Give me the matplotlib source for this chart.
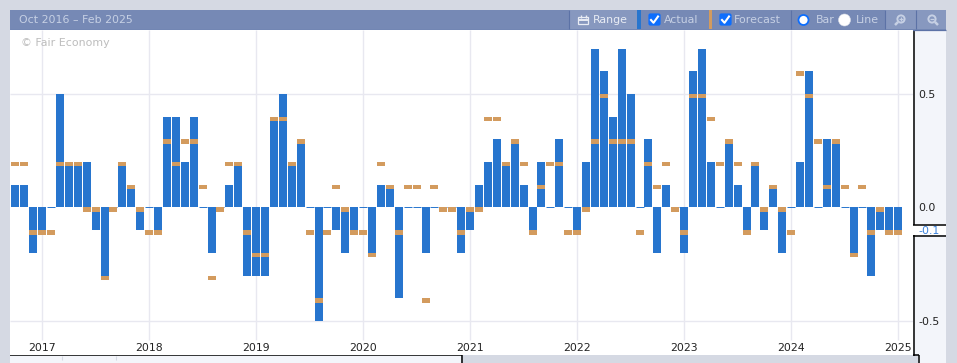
import matplotlib
matplotlib.use("Agg")
import matplotlib.pyplot as plt
from matplotlib.patches import Rectangle, Circle, FancyBboxPatch

plt.rcParams['font.family'] = ['DejaVu Sans']
plt.rcParams['axes.unicode_minus'] = False

# Monthly values, index 0 = Oct 2016
actual = [0.1, 0.1, -0.2, -0.1, 0.0, 0.5, 0.2, 0.2, 0.2, -0.1, -0.3, 0.0,
          0.2, 0.1, -0.1, 0.0, -0.1, 0.4, 0.4, 0.2, 0.4, 0.0, -0.2, 0.0,
          0.1, 0.2, -0.3, -0.3, -0.3, 0.4, 0.5, 0.2, 0.3, 0.0, -0.5, 0.0,
          -0.1, -0.2, -0.1, 0.0, -0.2, 0.1, 0.1, -0.4, 0.0, 0.0, -0.2, 0.0,
          0.0, 0.0, -0.2, -0.1, 0.1, 0.2, 0.3, 0.2, 0.3, 0.1, -0.1, 0.2,
          0.0, 0.3, 0.0, -0.1, 0.2, 0.7, 0.6, 0.4, 0.7, 0.5, 0.0, 0.3,
          -0.2, 0.1, 0.0, -0.2, 0.6, 0.7, 0.2, 0.0, 0.3, 0.1, -0.1, 0.2,
          -0.1, 0.1, -0.2, 0.0, 0.2, 0.6, 0.0, 0.3, 0.3, 0.0, -0.2, 0.0,
          -0.3, -0.1, -0.1, -0.1]
forecast = [0.2, 0.2, -0.1, -0.1, -0.1, 0.2, 0.2, 0.2, 0.0, 0.0, -0.3, 0.0,
            0.2, 0.1, 0.0, -0.1, -0.1, 0.3, 0.2, 0.3, 0.3, 0.1, -0.3, 0.0,
            0.2, 0.2, -0.1, -0.2, -0.2, 0.4, 0.4, 0.2, 0.3, -0.1, -0.4, -0.1,
            0.1, 0.0, -0.1, -0.1, -0.2, 0.2, 0.1, -0.1, 0.1, 0.1, -0.4, 0.1,
            0.0, 0.0, -0.1, 0.0, 0.0, 0.4, 0.4, 0.2, 0.3, 0.2, -0.1, 0.1,
            0.2, 0.2, -0.1, -0.1, 0.0, 0.3, 0.5, 0.3, 0.3, 0.3, -0.1, 0.2,
            0.1, 0.2, 0.0, -0.1, 0.5, 0.5, 0.4, 0.2, 0.3, 0.2, -0.1, 0.2,
            0.0, 0.1, 0.0, -0.1, 0.6, 0.5, 0.3, 0.1, 0.3, 0.1, -0.2, 0.1,
            -0.1, 0.0, -0.1, -0.1]
years = ['2017', '2018', '2019', '2020', '2021', '2022', '2023', '2024', '2025']
year_index = [3, 15, 27, 39, 51, 63, 75, 87, 99]
y_grid = [0.5, -0.5]
y_ticks = [0.5, 0.0, -0.5]
latest = -0.1
months = list(range(len(actual)))

W, H = 957, 363
BLUE = '#2775CE'
ORANGE = '#D39B5E'
BG = '#D5D9E3'
PANEL = '#F3F5FA'
HEAD = '#7689B5'
LIGHT = '#8798BF'
DIV = '#5C72A6'
GRID = '#E8E8F0'

fig = plt.figure(figsize=(W / 100, H / 100), dpi=100, facecolor=BG)

# ---- page chrome, in pixel coordinates
c = fig.add_axes([0, 0, 1, 1], zorder=0)
c.set_xlim(0, W)
c.set_ylim(H, 0)
c.axis('off')


def rect(x0, y0, x1, y1, col, z=1):
    c.add_patch(Rectangle((x0, y0), x1 - x0, y1 - y0, fc=col, ec='none', zorder=z))


def line(xs, ys, col='black', lw=1.0, z=3):
    c.plot(xs, ys, color=col, lw=lw, zorder=z, solid_capstyle='butt')


rect(913, 30, 946, 363, PANEL)
rect(913, 224, 946, 235, 'white', 2)
rect(10, 355, 461, 363, PANEL)
rect(461, 355, 918, 363, BG, 2)
for xv in (62, 116):
    line([xv, xv], [356, 360], '#D5D9E3', 0.8)
line([913.5, 913.5], [30, 224.5], lw=1.1)
line([913, 946], [224.5, 224.5], lw=1.1)
line([913, 946], [235.5, 235.5], lw=1.1)
line([913.5, 913.5], [235, 355.5], lw=1.1)
line([913, 918.5], [355.2, 355.2], lw=1.1)
line([918.5, 918.5], [355, 363], lw=1.1)
line([10, 461.5], [355.2, 355.2], lw=1.1)
line([461.5, 461.5], [355, 363], lw=1.1)

# header bar
rect(10, 10, 946, 30, HEAD)
line([10, 946], [29.6, 29.6], DIV, 0.9)
rect(569, 10, 637, 29, LIGHT, 2)
rect(885, 10, 946, 29, LIGHT, 2)
for xv in (568.5, 791, 884.5, 915.5):
    line([xv, xv], [10, 29], DIV, 0.8)
rect(637, 10, 641, 29, '#2775CE', 3)
rect(709, 10, 712, 29, ORANGE, 3)


def label(x, txt, col='#C6D0E4', size=7.9):
    c.text(x, 20.3, txt, color=col, fontsize=size, va='center', ha='left', zorder=5)


label(19, 'Oct 2016 – Feb 2025')
label(593, 'Range', '#E8ECF4')
label(664, 'Actual')
label(734, 'Forecast')
label(816, 'Bar')
label(856, 'Line')

# calendar icon
c.add_patch(Rectangle((578, 17), 10, 7, fc='none', ec='#E8ECF4', lw=0.9, zorder=5))
line([578, 588], [19.5, 19.5], '#E8ECF4', 1.4, 5)
for xv in (580.5, 585.5):
    line([xv, xv], [15, 18], '#E8ECF4', 1.0, 5)

# checkboxes
for xb in (648, 719):
    c.add_patch(FancyBboxPatch((xb + 1, 14), 11, 11, boxstyle='round,pad=0.6,rounding_size=2',
                               fc='#0D6EFD', ec='none', zorder=5))
    c.plot([xb + 3, xb + 5.5, xb + 10], [20, 22.8, 16.5], color='white', lw=1.5, zorder=6)

# radios
c.add_patch(Circle((803.5, 20), 5, fc='white', ec='#0D6EFD', lw=1.3, zorder=6))
c.add_patch(Circle((844.5, 20), 6, fc='white', ec='#D8DCE6', lw=0.4, zorder=5))

# magnifiers
ICON = '#C6D0E4'
for xm, plus in ((901, True), (932, False)):
    c.add_patch(Circle((xm, 19), 3.6, fc='none', ec=ICON, lw=1.4, zorder=5))
    line([xm + (-3 if plus else 3), xm + (-6 if plus else 6)], [22, 25], ICON, 1.8, 5)
    line([xm - 2, xm + 2], [19, 19], ICON, 0.9, 6)
    if plus:
        line([xm, xm], [17, 21], ICON, 0.9, 6)

# ---- main plot
x_l, x_r, y_t, y_b = 10, 913, 30, 355
ax = fig.add_axes([x_l / W, 1 - y_b / H, (x_r - x_l) / W, (y_b - y_t) / H], zorder=1)
px_month = 107 / 12
x0 = 15.4
ax.set_xlim((x_l - x0) / px_month, (x_r - x0) / px_month)
px_unit = 227.0
ax.set_ylim((207.5 - y_b) / px_unit, (207.5 - y_t) / px_unit)
for s in ax.spines.values():
    s.set_visible(False)

ax.hlines(y_grid, *ax.get_xlim(), color=GRID, lw=1.0, zorder=1)
ax.vlines(year_index, (207.5 - 340) / px_unit, ax.get_ylim()[1], color=GRID, lw=1.0, zorder=1)

bw = 8 / px_month
ax.bar(months, actual, width=bw, color=BLUE, linewidth=0, zorder=2)
zero_months = [m for m, a in zip(months, actual) if a == 0]
ax.hlines([0] * len(zero_months), [m - bw / 2 for m in zero_months],
          [m + bw / 2 for m in zero_months], color=BLUE, lw=0.7, zorder=2)
ax.bar(months, [-4.4 / px_unit] * len(forecast), bottom=forecast, width=bw,
       color=ORANGE, linewidth=0, zorder=3)

ax.set_xticks(year_index, years)
ax.tick_params(axis='x', length=0, pad=-8.6, labelsize=7.8, labelcolor='#222222')
ax.yaxis.tick_right()
ax.set_yticks(y_ticks + [latest], ['0.5', '0.0', '-0.5', '-0.1'])
ax.tick_params(axis='y', length=0, pad=3.6, labelsize=7.9, labelcolor='#222222')
ax.get_yticklabels()[3].set_color('#3B82DC')

ax.text(21, 43.5, '© Fair Economy', transform=c.transData, color='#BDBDBD',
        fontsize=7.9, va='center', ha='left', zorder=5)

fig.savefig('out.png', dpi=100, facecolor=BG)
